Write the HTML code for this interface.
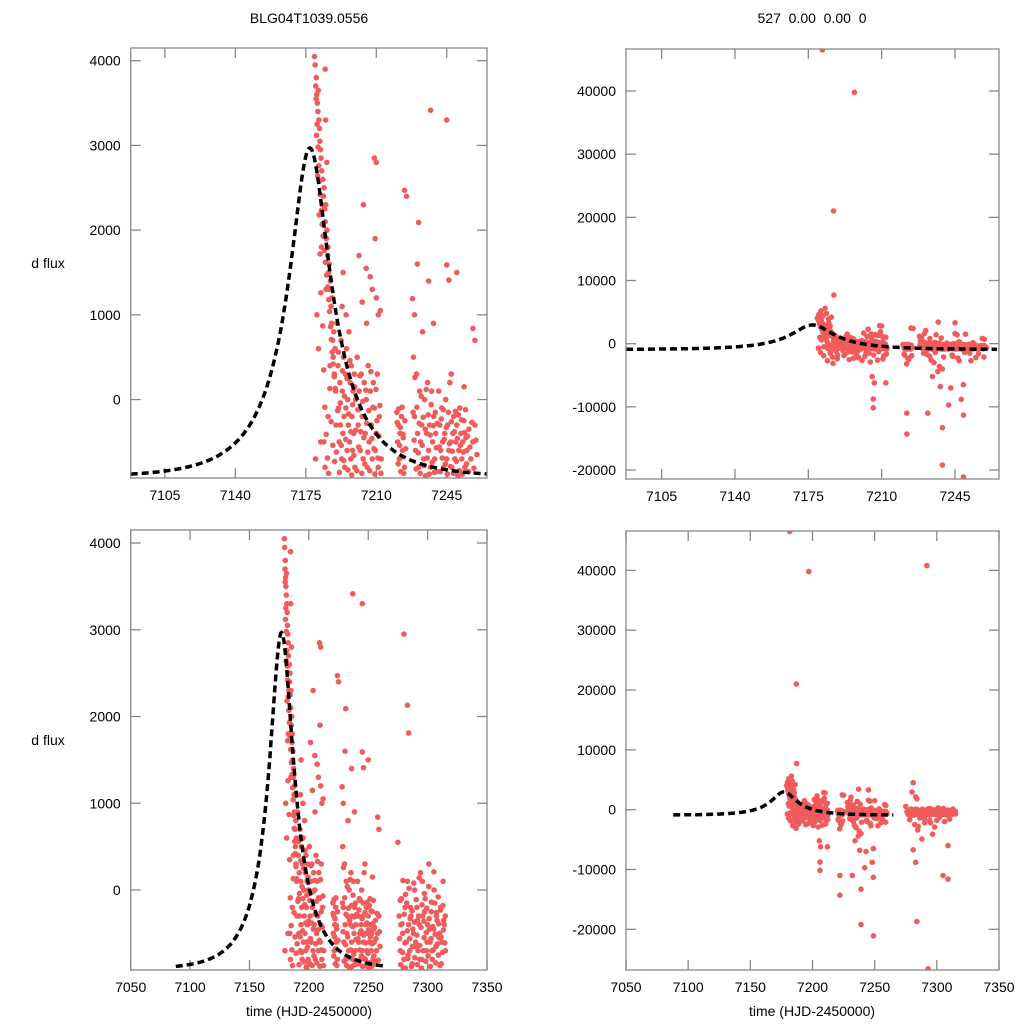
<!DOCTYPE html>
<html><head><meta charset="utf-8">
<style>
html,body{margin:0;padding:0;background:#fff;width:1024px;height:1024px;overflow:hidden;}
svg{display:block;position:absolute;left:0;top:0;font-family:"Liberation Sans",Arial,sans-serif;}
</style></head>
<body>
<svg id="chart" width="1024" height="1024" viewBox="0 0 1024 1024" xmlns="http://www.w3.org/2000/svg">
<rect width="1024" height="1024" fill="#fff"/>
<text x="309" y="23" font-size="14" text-anchor="middle">BLG04T1039.0556</text>
<text x="812" y="23" font-size="14" text-anchor="middle" xml:space="preserve">527  0.00  0.00  0</text>
<text x="48" y="268" font-size="14" text-anchor="middle">d flux</text>
<text x="48" y="745" font-size="14" text-anchor="middle">d flux</text>
<text x="309" y="1016" font-size="14" text-anchor="middle">time (HJD-2450000)</text>
<text x="812" y="1016" font-size="14" text-anchor="middle">time (HJD-2450000)</text>
</svg>
<script>
// ---- data ----
const obsTime = [
7179.3,7179.6,7179.9,7180.2,7180.4,7180.7,7181.0,7181.2,7181.5,7181.8,7182.0,7182.3,7182.6,7182.9,7180.0,7181.0,7182.0,7183.0,7181.7,7180.5,7181.3,7182.4,7179.8,7180.8,7182.8,7183.2,
7183.5,7183.8,7184.1,7184.3,7184.6,7184.9,7185.2,7185.5,7185.8,7186.0,7186.3,7186.6,7186.9,7187.2,7187.5,7187.8,7188.0,7188.3,7188.6,7188.9,7189.2,7189.5,7189.8,7190.0,7184.0,7185.0,7186.0,7187.0,7184.5,7185.5,7186.5,7187.0,7187.2,7186.0,7184.8,7188.2,7189.0,
7190.5,7191.0,7191.3,7191.6,7191.9,7192.2,7192.5,7192.8,7193.1,7193.4,7193.7,7194.0,7194.3,7194.6,7194.9,7195.2,7195.5,7195.8,7196.1,7196.4,7196.7,7197.0,7197.3,7197.6,7197.9,7198.2,7198.5,7198.8,7199.1,7199.4,7199.7,7195.0,7193.0,7196.0,7192.0,7194.5,7197.0,7198.0,7191.5,7199.0,7193.5,
7200.5,7201.0,7201.5,7202.0,7202.5,7203.0,7203.5,7204.0,7204.5,7205.0,7205.5,7206.0,7206.5,7207.0,7207.5,7208.0,7208.5,7209.0,7209.5,7210.0,7210.5,7211.0,7211.5,7203.0,7205.0,7207.0,7208.0,7210.0,7211.0,7212.0,7209.0,7204.0,7206.0,7206.0,7205.5,7206.5,7212.0,7210.0,7202.0,7208.0,7211.0,7212.5,
7220.2,7220.6,7221.0,7221.4,7221.8,7222.2,7222.6,7223.0,7223.4,7224.0,7222.0,7222.0,7224.0,7221.0,7223.0,7225.0,
7228.0,7228.5,7229.0,7229.5,7230.0,7230.5,7231.0,7231.5,7232.0,7232.5,7233.0,7233.5,7234.0,7234.5,7235.0,7235.5,7236.0,7236.5,7237.0,7237.5,7238.0,7238.5,7239.0,7239.5,7240.0,7231.0,7237.0,7232.0,7239.0,7239.0,7242.0,7238.0,7239.0,7233.0,7235.0,7230.0,7245.0,7229.0,7236.0,
7241.0,7241.5,7242.0,7242.5,7243.0,7243.5,7244.0,7244.5,7245.0,7245.5,7246.0,7246.5,7247.0,7247.5,7248.0,7248.5,7249.0,7249.5,7250.0,7250.5,7251.0,7251.5,7252.0,7252.5,7253.0,7253.5,7254.0,7254.5,7255.0,7256.0,7257.0,7258.0,7259.0,7260.0,7245.0,7246.0,7258.0,7249.0,7249.0,7248.0,7249.0,7243.0,7250.0,7244.0,7247.0,7252.0,7255.0,7259.0,
7276.0,7277.0,7278.0,7279.0,7280.0,7281.0,7282.0,7283.0,7284.0,7285.0,7286.0,7287.0,7288.0,7289.0,7290.0,7291.0,7292.0,7293.0,7294.0,7295.0,7296.0,7297.0,7298.0,7299.0,7300.0,7301.0,7302.0,7303.0,7304.0,7305.0,7306.0,7307.0,7308.0,7309.0,7310.0,7311.0,7312.0,7313.0,7314.0,7315.0,
7277.5,7279.5,7281.5,7283.5,7285.5,7287.5,7289.5,7291.5,7293.5,7295.5,7297.5,7299.5,7301.5,7303.5,7305.5,7307.5,7309.5,7311.5,7313.5,
7275.0,7280.0,7283.0,7284.0,7281.0,7288.0,7281.0,7283.0,7305.0,7309.0,7309.0,7284.0,7293.0,7292.0,7290.0,7295.0,7300.0,7285.0,7310.0
];
const obsFlux = [
4050,3950,3700,3800,3600,3500,3400,3650,3300,3200,3050,2950,2850,2700,4600,5200,4400,5600,46500,1000,600,-500,-700,-1400,1800,2300,
2600,2400,2500,2250,2100,2300,1900,2000,1700,1800,1500,1600,1300,1400,1100,900,1200,700,500,800,300,600,100,-300,-500,1300,-200,400,-800,-1500,-2100,21000,7700,4200,3300,-1200,-1800,
900,400,-100,-500,200,-300,700,-700,100,-400,500,-200,-800,300,-100,600,-600,0,-300,800,-500,200,-700,400,-200,-600,100,-400,300,-800,0,1000,1100,-1300,-1900,-2500,39800,-1600,-1100,-2200,1500,
500,-300,100,-600,300,-200,-700,200,-400,0,-800,400,-500,100,-300,-700,200,-100,-600,-400,300,-800,-200,1150,1550,1450,1300,1200,1000,1050,2850,-1500,-8760,-10150,-5200,-6200,-6200,2800,-2000,-2600,-1900,-700,
-150,-500,-300,-700,-400,-850,-200,-600,-450,-800,-11000,-14300,2470,-1800,-2500,2400,
1190,500,-200,-600,300,-400,-800,100,-500,-300,800,-700,0,-900,-400,200,-600,-300,-800,100,-500,-200,-700,-400,-850,2090,3414,-11000,-13300,-19200,-9700,-6800,-4000,-2000,-3000,-1500,3300,1000,1400,
100,-300,-600,-100,-500,-800,-400,0,-700,-300,-600,200,-500,-800,-400,-200,-700,-500,-300,-900,-600,-100,-400,-700,-500,-250,-800,-450,-600,-350,-700,-500,-300,-650,1590,1410,840,-21100,-11300,-8800,-6500,-7000,1500,-2000,-2700,-1500,-2200,700,
-300,-700,-100,-500,-800,-200,-600,100,-400,-700,-300,-850,-500,0,-600,-200,-700,-400,200,-800,-300,-550,-100,-700,-400,300,-600,-250,-800,-450,-150,-650,-350,-750,-500,-200,-600,100,-400,-700,
-400,-900,-50,-750,-200,-450,-650,-350,-800,100,-250,-600,-450,-700,0,-300,-550,-850,-350,
550,2950,2130,1810,4500,-4900,-6700,-8800,-11000,-11600,-6000,-18700,-26600,40800,-1500,-2200,-1800,-2800,-1300
];
// additional observations (same light curve, denser sampling)
const extraTime = [
7180.1,7180.6,7181.1,7181.4,7181.9,7182.2,7182.7,7183.1,7183.6,7184.2,7184.7,7185.3,7185.9,7186.4,7186.8,7187.3,7187.7,7188.1,7188.6,7189.1,7189.6,7180.3,7180.9,7181.6,7182.1,7182.5,7183.4,7183.9,7184.4,7185.1,7185.7,7186.2,7186.9,7187.6,7188.4,7189.3,7183.7,7184.6,7185.4,7182.3,7184.1,7186.8,7188.8,
7190.2,7190.8,7191.2,7191.7,7192.1,7192.6,7193.2,7193.8,7194.2,7194.8,7195.4,7195.9,7196.3,7196.9,7197.4,7197.8,7198.3,7198.9,7199.3,7199.8,7200.3,7200.8,7201.3,7201.8,7202.3,7202.8,7203.3,7203.8,7204.3,7204.8,7205.3,7205.8,7206.3,7206.8,7207.3,7207.8,7208.3,7208.8,7209.3,7209.8,7210.3,7210.8,7211.3,7211.8,7212.3,7192.4,7194.2,7196.6,7198.6,7200.6,7202.6,7204.6,7206.2,7208.6,7210.6,7212.2,7201.4,7203.6,7205.2,7209.4,
7220.4,7220.9,7221.2,7221.6,7222.0,7222.4,7222.8,7223.2,7223.6,7224.2,7224.6,7220.7,7222.5,7224.3,7221.9,
7228.3,7228.8,7229.2,7229.8,7230.2,7230.8,7231.3,7231.8,7232.3,7232.8,7233.3,7233.8,7234.3,7234.8,7235.3,7235.8,7236.3,7236.8,7237.3,7237.8,7238.3,7238.8,7239.3,7239.8,7240.3,7231.6,7233.6,7235.6,7237.6,7239.6,7234.2,7236.8,7230.4,7238.4,
7241.3,7241.8,7242.3,7242.8,7243.3,7243.8,7244.3,7244.8,7245.3,7245.8,7246.3,7246.8,7247.3,7247.8,7248.3,7248.8,7249.3,7249.8,7250.3,7250.8,7251.3,7251.8,7252.3,7252.8,7253.3,7253.8,7254.3,7254.8,7255.3,7255.8,7256.5,7257.5,7258.5,7259.5,7243.6,7246.4,7249.6,7252.6,7256.2,7258.8,7247.2,7253.6,
7276.4,7276.9,7277.3,7278.4,7278.9,7279.3,7280.4,7280.9,7281.3,7282.4,7282.9,7283.3,7284.4,7284.9,7285.3,7286.4,7286.9,7287.3,7288.4,7288.9,7289.3,7290.4,7290.9,7291.3,7292.4,7292.9,7293.3,7294.4,7294.9,7295.3,7296.4,7296.9,7297.3,7298.4,7298.9,7299.3,7300.4,7300.9,7301.3,7302.4,7302.9,7303.3,7304.4,7304.9,7305.3,7306.4,7306.9,7307.3,7308.4,7308.9,7309.3,7310.4,7310.9,7311.3,7312.4,7312.9,7313.3,7314.4,7314.9,
7278.2,7282.2,7286.2,7290.2,7294.2,7298.2,7302.2,7306.2,7310.2,7284.6,7296.6
];
const extraFlux = [
3550,3250,2980,2760,2580,2420,2230,2070,1930,1760,1620,1470,1330,1180,1040,860,710,560,420,270,130,3120,2640,2180,1720,1260,870,350,-90,-410,-690,-870,130,-260,-540,-730,4800,3900,2800,-1900,-2700,-3100,-2400,
-620,-130,560,-860,-40,-540,340,-720,40,-470,250,-830,-170,460,-380,-890,-60,-660,150,-360,-840,-120,-560,280,-380,-870,-20,-450,-760,110,-280,-620,-130,-840,330,-460,-90,-580,-880,120,-250,-690,-430,-70,-870,-1700,-1300,-2300,-1150,-2650,-1450,-2900,-1800,-1250,-2400,-1650,1700,2300,900,1900,
-270,-760,-110,-540,-330,-680,-90,-410,-870,-250,-580,-1600,-2300,-1900,-3200,
-150,-480,260,-820,-90,-630,-280,-870,40,-540,-210,-780,-350,120,-690,-180,-880,-420,-60,-740,-310,-860,-150,-570,-280,-1700,-2600,-1400,-3600,-2100,-5200,-4400,1600,900,
-560,-850,-230,-690,-120,-470,-760,-330,-880,-150,-520,-790,-260,-610,-870,-380,-140,-730,-460,-180,-840,-540,-240,-880,-620,-390,-120,-760,-430,-850,-560,-270,-810,-480,-1800,-2300,-1400,-2700,-1600,-2100,300,150,
-560,-120,-860,-390,-720,110,-280,-610,-900,-150,-470,-790,20,-560,-330,-880,-240,-650,80,-370,-780,-110,-520,-860,-300,140,-640,-430,-900,-170,-700,-360,-40,-820,-490,-210,-760,40,-330,-880,-560,-140,-420,-690,210,-510,-840,-260,-620,-80,-390,-870,-230,-540,-720,-180,-460,-610,-300,
-1700,-2500,-1400,-2200,-1800,-2900,-1300,-2000,-1600,-3400,-4100
];
// microlensing model parameters
const t0 = 7177, u0 = 0.3, tE = 33.6, fs = 1591, baseFlux = -920;
const modelStart = 7088, modelEnd = 7265;
// tick labels
const topXTicks = [7105,7140,7175,7210,7245];
const botXTicks = [7050,7100,7150,7200,7250,7300,7350];
const leftYTicksTop = [0,1000,2000,3000,4000];
const leftYTicksBot = [0,1000,2000,3000,4000];
const rightYTicks = [-20000,-10000,0,10000,20000,30000,40000];

// ---- rendering ----
const NS = "http://www.w3.org/2000/svg";
const svg = document.getElementById('chart');
const allTime = obsTime.concat(extraTime);
const allFlux = obsFlux.concat(extraFlux);
function mk(tag, attrs, parent){const e=document.createElementNS(NS,tag);for(const k in attrs)e.setAttribute(k,attrs[k]);(parent||svg).appendChild(e);return e;}
function magnif(t){const tau=(t-t0)/tE;const u=Math.sqrt(u0*u0+tau*tau);return (u*u+2)/(u*Math.sqrt(u*u+4));}
function model(t){return baseFlux+fs*(magnif(t)-1);}

const panels = [
 {id:'top-left', x0:130.7,x1:487,y0:48,y1:478, xmin:7088,xmax:7265, ymin:-926,ymax:4150, xt:topXTicks, yt:leftYTicksTop},
 {id:'top-right', x0:626,x1:999,y0:49,y1:479, xmin:7088,xmax:7266, ymin:-21420,ymax:46650, xt:topXTicks, yt:rightYTicks},
 {id:'bottom-left', x0:130.7,x1:487,y0:530,y1:970, xmin:7050,xmax:7350, ymin:-922,ymax:4150, xt:botXTicks, yt:leftYTicksBot},
 {id:'bottom-right', x0:626,x1:999,y0:531,y1:970, xmin:7050,xmax:7350, ymin:-26800,ymax:46580, xt:botXTicks, yt:rightYTicks}
];

panels.forEach(p=>{
  const sx=v=>p.x0+(v-p.xmin)/(p.xmax-p.xmin)*(p.x1-p.x0);
  const sy=v=>p.y1-(v-p.ymin)/(p.ymax-p.ymin)*(p.y1-p.y0);
  const g=mk('g',{});
  
  
  const cp=mk('clipPath',{id:'clip-'+p.id},g);
  mk('rect',{x:p.x0,y:p.y0,width:p.x1-p.x0,height:p.y1-p.y0},cp);
  p.xt.forEach(v=>{
    const x=sx(v);
    const t1=mk('line',{x1:x,x2:x,y1:p.y1,y2:p.y1-10,stroke:'#888','stroke-width':1.3},g);
    
    
    mk('line',{x1:x,x2:x,y1:p.y0,y2:p.y0+10,stroke:'#888','stroke-width':1.3},g);
    const lb=mk('text',{x:x,y:p.y1+22,'font-size':14,'text-anchor':'middle'},g);
    lb.textContent=v;
    
    
  });
  p.yt.forEach(v=>{
    const y=sy(v);
    const t1=mk('line',{x1:p.x0,x2:p.x0+10,y1:y,y2:y,stroke:'#888','stroke-width':1.3},g);
    
    
    mk('line',{x1:p.x1,x2:p.x1-10,y1:y,y2:y,stroke:'#888','stroke-width':1.3},g);
    const lb=mk('text',{x:p.x0-10,y:y+5,'font-size':14,'text-anchor':'end'},g);
    lb.textContent=v;
    
    
  });
  const pg=mk('g',{'clip-path':'url(#clip-'+p.id+')',fill:'#f05c5c'},g);
  
  
  for(let i=0;i<allTime.length;i++){
    const c=mk('circle',{cx:sx(allTime[i]).toFixed(1),cy:sy(allFlux[i]).toFixed(1),r:2.8},pg);
    
    
  }
  let d='';
  for(let t=modelStart;t<=modelEnd;t+=0.5){d+=(d?'L':'M')+sx(t).toFixed(1)+','+sy(model(t)).toFixed(1);}
  const mp=mk('path',{d:d,fill:'none',stroke:'#000','stroke-width':3.5,'stroke-dasharray':'7,4','clip-path':'url(#clip-'+p.id+')'},g);
  
  
  const fr=mk('rect',{x:p.x0,y:p.y0,width:p.x1-p.x0,height:p.y1-p.y0,fill:'none',stroke:'#888','stroke-width':1.3},g);
  
  
});
</script>
</body></html>
